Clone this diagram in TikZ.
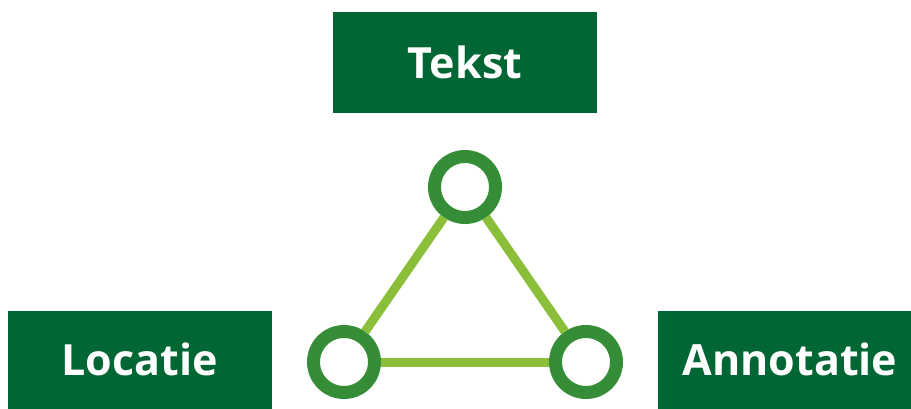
\documentclass[tikz,border=0pt]{standalone}
\usepackage{fontspec}
\setmainfont{Open Sans}
\definecolor{boxgreen}{HTML}{006633}
\definecolor{ringgreen}{HTML}{368D37}
\definecolor{linkgreen}{HTML}{8BBF3A}
\begin{document}
\begin{tikzpicture}[x=1pt, y=-1pt,
  box/.style = {shape=rectangle, fill=boxgreen, text=white,
    font=\bfseries\fontsize{43}{48}\selectfont,
    minimum width=264pt, minimum height=101pt, inner sep=0pt},
  lowbox/.style = {box, text depth=5pt},
  ring/.style = {shape=circle, draw=ringgreen, fill=white,
    line width=13pt, minimum size=61pt, inner sep=0pt},
  link/.style = {draw=linkgreen, line width=9pt}]
  \useasboundingbox (0,0) rectangle (911,409);
  \node[box] (tekst) at (465,62.5) {Tekst};
  \node[lowbox] (loc) at (139.5,361.5) {Locatie};
  \node[lowbox] (ann) at (790,361.5) {Annotatie};

  \node[ring] (top) at (465,187) {};
  \node[ring] (left) at (344,362) {};
  \node[ring] (right) at (586,362) {};

  \draw[link] (top) -- (left);
  \draw[link] (left) -- (right);
  \draw[link] (right) -- (top);
\end{tikzpicture}
\end{document}
